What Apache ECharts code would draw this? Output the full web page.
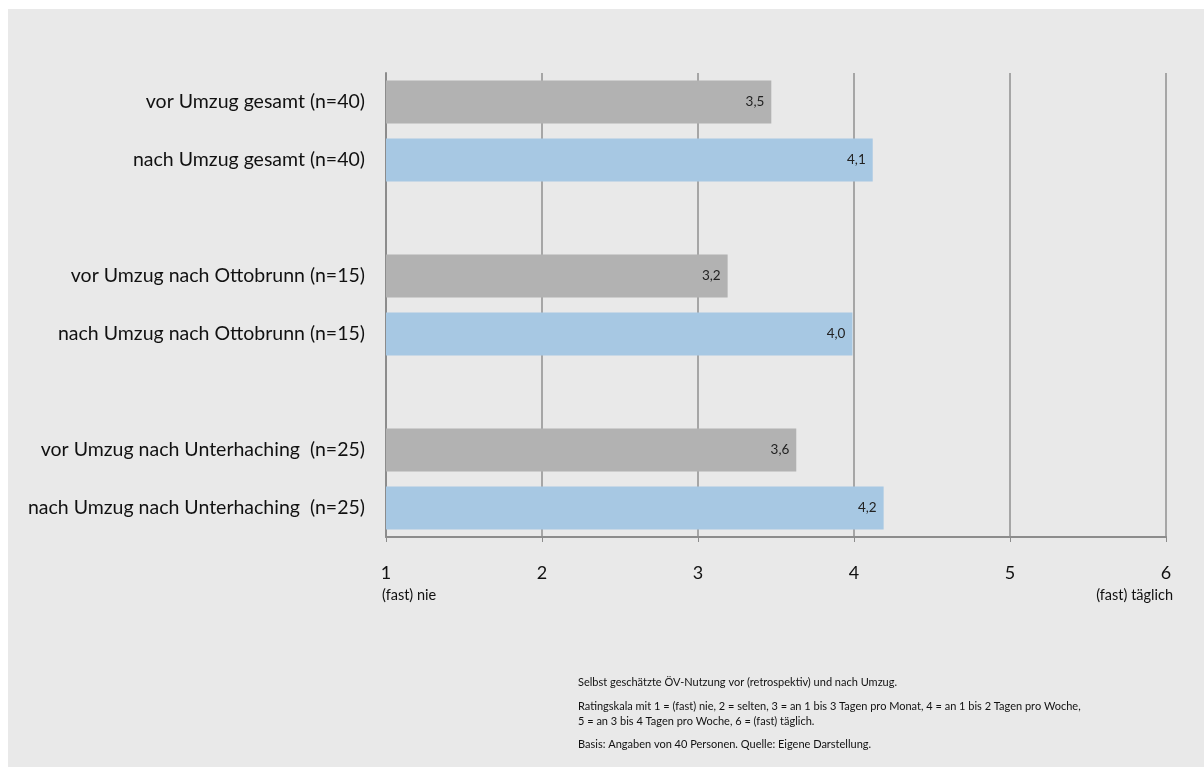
<!DOCTYPE html>
<html>
<head>
<meta charset="utf-8">
<script src="https://cdn.jsdelivr.net/npm/echarts@6/dist/echarts.min.js"></script>
<style>
  html, body { margin: 0; padding: 0; background: #ffffff; }
  #wrap { position: relative; width: 1204px; height: 767px; background: #ffffff; overflow: hidden; }
  #chart { position: absolute; left: 8px; top: 9px; width: 1196px; height: 758px; background: #e9e9e9; }
</style>
</head>
<body>
<div id="wrap"><div id="chart"></div></div>
<script>
// ---- data ----
const categories = [
  'vor Umzug gesamt (n=40)',
  'nach Umzug gesamt (n=40)',
  '',
  'vor Umzug nach Ottobrunn (n=15)',
  'nach Umzug nach Ottobrunn (n=15)',
  '',
  'vor Umzug nach Unterhaching  (n=25)',
  'nach Umzug nach Unterhaching  (n=25)'
];
const vorValues  = [3.47, null, null, 3.19, null, null, 3.63, null];
const nachValues = [null, 4.12, null, null, 3.99, null, null, 4.19];
const xTicks = [1, 2, 3, 4, 5, 6];
const scaleEnds = ['(fast) nie', '(fast) täglich'];
const notes = [
  'Selbst geschätzte ÖV-Nutzung vor (retrospektiv) und nach Umzug.',
  'Ratingskala mit 1 = (fast) nie, 2 = selten, 3 = an 1 bis 3 Tagen pro Monat, 4 = an 1 bis 2 Tagen pro Woche,',
  '5 = an 3 bis 4 Tagen pro Woche, 6 = (fast) täglich.',
  'Basis: Angaben von 40 Personen. Quelle: Eigene Darstellung.'
];

const FONT = 'Lato, "Open Sans", sans-serif';
const chart = echarts.init(document.getElementById('chart'), null, { renderer: 'canvas' });

const fmt = p => (p.value == null ? '' : Number(p.value).toFixed(1).replace('.', ','));

const option = {
  animation: false,
  backgroundColor: 'transparent',
  grid: { left: 378, right: 38, top: 64, bottom: 230, containLabel: false },
  xAxis: {
    type: 'value',
    min: xTicks[0],
    max: xTicks[xTicks.length - 1],
    interval: 1,
    axisLine: { show: true, lineStyle: { color: '#8c8c8c', width: 2 } },
    axisTick: { show: true, length: 5, lineStyle: { color: '#8c8c8c', width: 1 } },
    axisLabel: { fontFamily: FONT, fontSize: 18, color: '#111', margin: 27 },
    splitLine: { show: true, lineStyle: { color: '#8f8f8f', width: 1.5 } }
  },
  yAxis: {
    type: 'category',
    inverse: true,
    data: categories,
    axisLine: { show: true, lineStyle: { color: '#8c8c8c', width: 2 } },
    axisTick: { show: false },
    axisLabel: { fontFamily: FONT, fontSize: 19.5, color: '#111', margin: 21 },
    splitLine: { show: false }
  },
  series: [
    {
      name: 'vor', type: 'bar', data: vorValues,
      barWidth: '74%', barGap: '-100%',
      itemStyle: { color: '#b2b2b2' },
      label: { show: true, position: 'insideRight', distance: 7, formatter: fmt, fontFamily: FONT, fontSize: 13.5, color: '#222' }
    },
    {
      name: 'nach', type: 'bar', data: nachValues,
      barWidth: '74%', barGap: '-100%',
      itemStyle: { color: '#a7c8e3' },
      label: { show: true, position: 'insideRight', distance: 7, formatter: fmt, fontFamily: FONT, fontSize: 13.5, color: '#222' }
    }
  ]
};
chart.setOption(option);

// annotation texts placed via the axis scale
const x1 = chart.convertToPixel({ xAxisIndex: 0 }, xTicks[0]);
const x6 = chart.convertToPixel({ xAxisIndex: 0 }, xTicks[xTicks.length - 1]);
const gridBottom = 758 - 230;
const graphics = [
  { type: 'text', left: x1 - 4, top: gridBottom + 51, style: { text: scaleEnds[0], fontFamily: FONT, fontSize: 14.5, fill: '#111' } },
  { type: 'text', right: 1196 - x6 - 7, top: gridBottom + 51, style: { text: scaleEnds[1], fontFamily: FONT, fontSize: 14.5, fill: '#111' } }
];
const noteTops = [668, 692, 707, 730];
notes.forEach((t, i) => {
  graphics.push({ type: 'text', left: 570, top: noteTops[i], style: { text: t, fontFamily: FONT, fontSize: 11, fill: '#111' } });
});
chart.setOption({ graphic: graphics });
</script>
</body>
</html>
